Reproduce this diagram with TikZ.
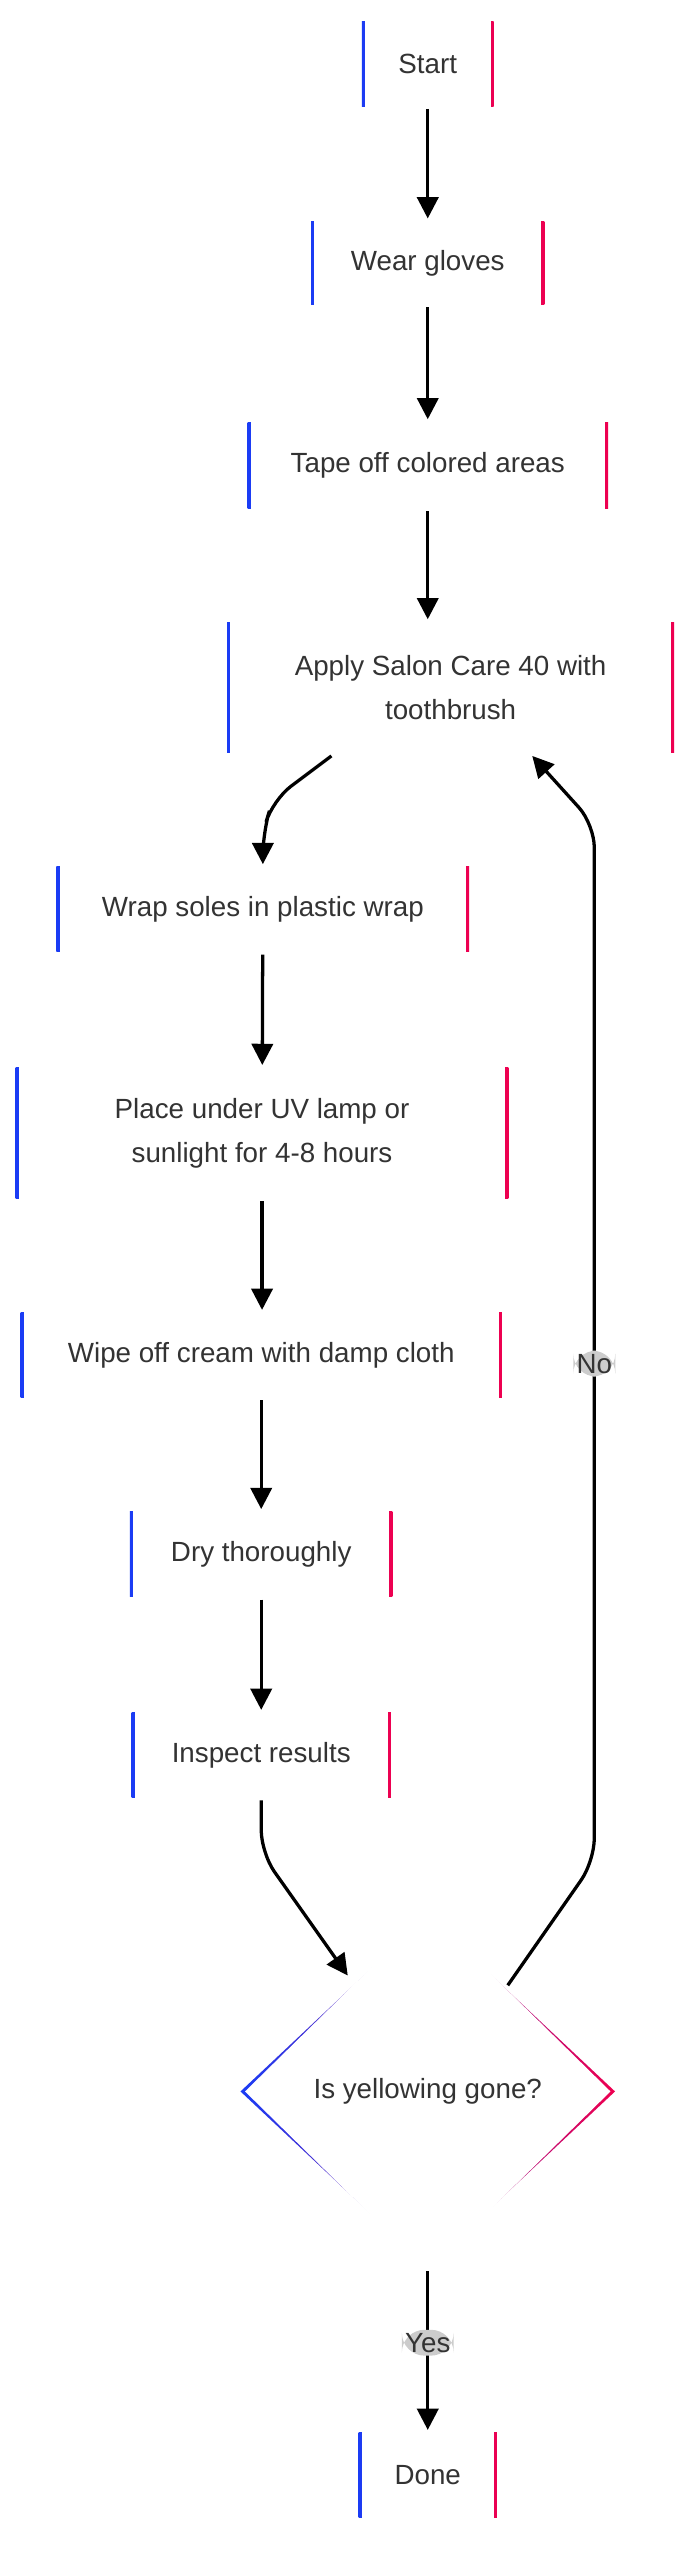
\documentclass[tikz,border=0pt]{standalone}
\usepackage{fontspec}
\setmainfont{Liberation Sans}
\usetikzlibrary{arrows.meta,shapes.geometric,backgrounds}
\definecolor{gb}{HTML}{1A3CF5}
\definecolor{gr}{HTML}{EE0050}
\definecolor{lbl}{HTML}{CCCCCC}
\definecolor{txt}{HTML}{333333}
\tikzset{
  box/.style={rectangle,fill=white,draw=none,inner sep=0pt,align=center,text=txt,font=\fontsize{17}{27}\selectfont},
  dia/.style={diamond,fill=white,draw=none,inner sep=0pt,align=center,text=txt,font=\fontsize{17}{27}\selectfont,minimum width=224,minimum height=220},
  arr/.style={line width=2,-{Triangle[length=13,width=13]},rounded corners=14},
  lab/.style={rectangle,fill=lbl,inner sep=2,text=txt,font=\fontsize{17}{20}\selectfont},
  grad/.style={left color=gb,right color=gr,middle color=gb!50!gr}
}
\newcommand{\gbox}[1]{\begin{scope}[on background layer]\shade[grad] ([shift={(-1.7,-1.7)}]#1.south west) rectangle ([shift={(1.7,1.7)}]#1.north east);\end{scope}}
\begin{document}
\begin{tikzpicture}[x=1pt,y=-1pt]
\useasboundingbox (0,0) rectangle (425,1568);
\node[box,minimum width=77,minimum height=55] (s) at (262,39) {Start};
\node[box,minimum width=139,minimum height=54] (g) at (262,161) {Wear gloves};
\node[box,minimum width=217,minimum height=56] (t) at (262,285) {Tape off colored areas};
\node[box,minimum width=270,minimum height=83] (a) at (276,421) {Apply Salon Care 40 with\\toothbrush};
\node[box,minimum width=249,minimum height=55] (w) at (161,557) {Wrap soles in plastic wrap};
\node[box,minimum width=298,minimum height=83] (p) at (160.5,694) {Place under UV lamp or\\sunlight for 4-8 hours};
\node[box,minimum width=291,minimum height=55] (c) at (160,830) {Wipe off cream with damp cloth};
\node[box,minimum width=157,minimum height=55] (d) at (160,952) {Dry thoroughly};
\node[box,minimum width=155,minimum height=55] (i) at (160,1075) {Inspect results};
\node[dia] (q) at (262,1281) {Is yellowing gone?};
\node[box,minimum width=81,minimum height=55] (e) at (262,1516) {Done};
\foreach \n in {s,g,t,a,w,p,c,d,i,e}{\gbox{\n}}
\begin{scope}[on background layer]
\shade[grad] ([yshift=-2.5]q.north) -- ([xshift=2.5]q.east) -- ([yshift=2.5]q.south) -- ([xshift=-2.5]q.west) -- cycle;
\end{scope}
\coordinate (a1) at (203,463);
\coordinate (a2) at (326,463);
\draw[arr] (s) -- (g);
\draw[arr] (g) -- (t);
\draw[arr] (t) -- (t |- a.north);
\draw[arr] (a1) -- (167,490) -- (161,510) -- (w.north);
\draw[arr] (w) -- (p);
\draw[arr] (p) -- (p.south |- c.north);
\draw[arr] (c) -- (d);
\draw[arr] (d) -- (i);
\draw[arr] (i.south) -- (160,1135) -- (213,1210);
\draw[arr] (q.south) -- node[lab,pos=0.45]{Yes} (e.north);
\draw[arr] (311,1216) -- (364,1140) -- node[lab,pos=0.48]{No} (364,505) -- (a2);
\end{tikzpicture}
\end{document}
